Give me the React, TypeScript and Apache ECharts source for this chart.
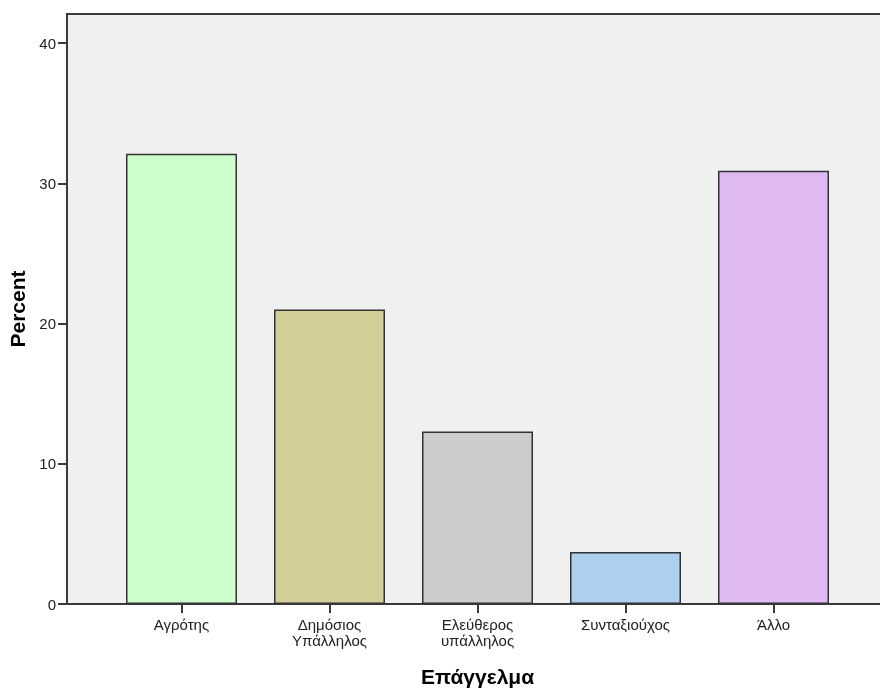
import React, { useEffect, useRef } from "react";
import * as echarts from "echarts";

const categories = ["Αγρότης", "Δημόσιος\nΥπάλληλος", "Ελεύθερος\nυπάλληλος", "Συνταξιούχος", "Άλλο"];
const percents = [32.1, 21.0, 12.3, 3.7, 30.9];
const barColors = ["#ccffcc", "#d3ce97", "#cccccc", "#acd0ee", "#dfb9f2"];
const yTicks = [0, 10, 20, 30, 40];

export default function App() {
  const ref = useRef<HTMLDivElement>(null);
  useEffect(() => {
    if (!ref.current) return;
    const chart = echarts.init(ref.current, undefined, { renderer: "svg" });
    const gridLeft = 67;
    const gridRightEdge = 882;
    const catStep = 148;
    const firstCenter = 181.5;
    const xMin = 1 - (firstCenter - gridLeft) / catStep;
    const xMax = xMin + (gridRightEdge - gridLeft) / catStep;
    const catIdx = categories.map((_, i) => i + 1);
    const lineColor = "#3a3a3a";
    chart.setOption({
      animation: false,
      textStyle: { fontFamily: "Arial, 'Liberation Sans', sans-serif" },
      grid: {
        left: gridLeft,
        right: 880 - gridRightEdge,
        top: 14,
        bottom: 84,
        outerBoundsMode: "none",
        containLabel: false,
        show: true,
        backgroundColor: "#f0f0f0",
        borderColor: lineColor,
        borderWidth: 2,
      },
      xAxis: {
        type: "value",
        min: xMin,
        max: xMax,
        name: "Επάγγελμα",
        nameLocation: "middle",
        nameGap: 62,
        nameTextStyle: { fontSize: 21, fontWeight: "bold", color: "#000", padding: [0, 0, 0, 6] },
        axisLine: { show: true, lineStyle: { color: lineColor, width: 2 } },
        axisTick: { show: true, length: 9, lineStyle: { color: lineColor, width: 2 }, customValues: catIdx },
        axisLabel: {
          customValues: catIdx,
          margin: 12,
          fontSize: 15,
          lineHeight: 16,
          color: "#222",
          formatter: (v: number) => categories[Math.round(v) - 1] ?? "",
        },
        splitLine: { show: false },
      },
      yAxis: {
        type: "value",
        min: 0,
        max: 42.07,
        name: "Percent",
        nameLocation: "middle",
        nameRotate: 90,
        nameGap: 38,
        nameTextStyle: { fontSize: 21, fontWeight: "bold", color: "#000" },
        axisLine: { show: true, lineStyle: { color: lineColor, width: 2 } },
        axisTick: { show: true, length: 9, lineStyle: { color: lineColor, width: 2 }, customValues: yTicks },
        axisLabel: { customValues: yTicks, margin: 11, fontSize: 15, color: "#222" },
        splitLine: { show: false },
      },
      series: [
        {
          type: "bar",
          barWidth: 111,
          data: percents.map((p, i) => ({
            value: [i + 1, p],
            itemStyle: { color: barColors[i], borderColor: "#333333", borderWidth: 1.5 },
          })),
        },
      ],
    });
    return () => chart.dispose();
  }, []);
  return <div ref={ref} style={{ position: "fixed", left: 0, top: 0, width: 880, height: 688 }} />;
}
